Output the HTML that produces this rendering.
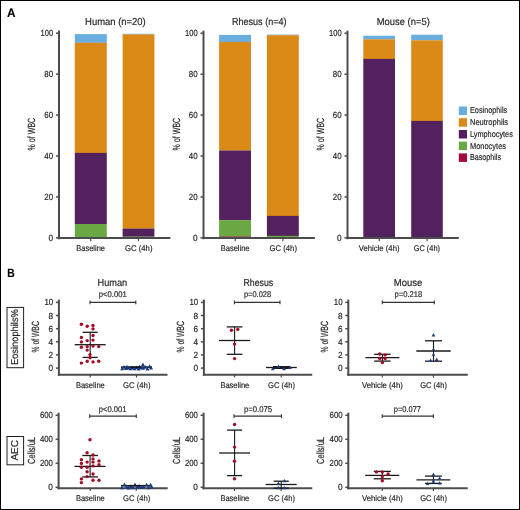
<!DOCTYPE html><html><head><meta charset="utf-8"><style>html,body{margin:0;padding:0;background:#fff;}svg{display:block;}text{text-rendering:geometricPrecision;stroke:#231f20;stroke-width:0.18px;}</style></head><body>
<svg width="520" height="510" viewBox="0 0 520 510" font-family='"Liberation Sans", sans-serif' style="will-change:transform">
<rect x="0" y="0" width="520" height="510" fill="#fff"/>
<rect x="0.5" y="0.5" width="519" height="509" fill="none" stroke="#000" stroke-width="1"/>
<text x="7.00" y="16.60" font-size="12.5" font-weight="bold" fill="#000" textLength="8.50" lengthAdjust="spacingAndGlyphs">A</text>
<text x="7.20" y="277.30" font-size="12.0" font-weight="bold" fill="#000" textLength="7.40" lengthAdjust="spacingAndGlyphs">B</text>
<text x="85.10" y="25.20" font-size="10.2" font-weight="normal" fill="#231f20" textLength="60.60" lengthAdjust="spacingAndGlyphs">Human (n=20)</text>
<text transform="translate(35.20,150.40) rotate(-90)" x="0" y="0" font-size="10.4" fill="#231f20" textLength="32.60" lengthAdjust="spacingAndGlyphs">% of WBC</text>
<rect x="74.80" y="34.10" width="32.00" height="8.80" fill="#6aaee0"/>
<rect x="74.80" y="42.75" width="32.00" height="110.25" fill="#db8a17"/>
<rect x="74.80" y="152.90" width="32.00" height="71.20" fill="#53225e"/>
<rect x="74.80" y="224.00" width="32.00" height="14.00" fill="#6aa843"/>
<rect x="122.60" y="33.80" width="31.80" height="0.80" fill="#6aaee0"/>
<rect x="122.60" y="34.40" width="31.80" height="194.30" fill="#db8a17"/>
<rect x="122.60" y="228.60" width="31.80" height="8.20" fill="#53225e"/>
<rect x="122.60" y="236.60" width="31.80" height="1.40" fill="#6aa843"/>
<line x1="59.00" y1="30.60" x2="59.00" y2="239.20" stroke="#4c4c4c" stroke-width="2.0"/>
<line x1="58.00" y1="238.05" x2="170.40" y2="238.05" stroke="#4c4c4c" stroke-width="2.0"/>
<line x1="56.00" y1="237.85" x2="59.00" y2="237.85" stroke="#4c4c4c" stroke-width="1.5"/>
<text x="48.50" y="240.85" font-size="8.8" font-weight="normal" fill="#231f20" textLength="4.60" lengthAdjust="spacingAndGlyphs">0</text>
<line x1="56.00" y1="196.92" x2="59.00" y2="196.92" stroke="#4c4c4c" stroke-width="1.5"/>
<text x="44.30" y="199.92" font-size="8.8" font-weight="normal" fill="#231f20" textLength="8.80" lengthAdjust="spacingAndGlyphs">20</text>
<line x1="56.00" y1="155.99" x2="59.00" y2="155.99" stroke="#4c4c4c" stroke-width="1.5"/>
<text x="44.30" y="158.99" font-size="8.8" font-weight="normal" fill="#231f20" textLength="8.80" lengthAdjust="spacingAndGlyphs">40</text>
<line x1="56.00" y1="115.06" x2="59.00" y2="115.06" stroke="#4c4c4c" stroke-width="1.5"/>
<text x="44.30" y="118.06" font-size="8.8" font-weight="normal" fill="#231f20" textLength="8.80" lengthAdjust="spacingAndGlyphs">60</text>
<line x1="56.00" y1="74.13" x2="59.00" y2="74.13" stroke="#4c4c4c" stroke-width="1.5"/>
<text x="44.30" y="77.13" font-size="8.8" font-weight="normal" fill="#231f20" textLength="8.80" lengthAdjust="spacingAndGlyphs">80</text>
<line x1="56.00" y1="33.20" x2="59.00" y2="33.20" stroke="#4c4c4c" stroke-width="1.5"/>
<text x="40.50" y="36.20" font-size="8.8" font-weight="normal" fill="#231f20" textLength="12.60" lengthAdjust="spacingAndGlyphs">100</text>
<line x1="90.70" y1="238.25" x2="90.70" y2="241.20" stroke="#4c4c4c" stroke-width="1.2"/>
<text x="76.25" y="250.90" font-size="8.3" font-weight="normal" fill="#231f20" textLength="28.75" lengthAdjust="spacingAndGlyphs">Baseline</text>
<line x1="138.40" y1="238.25" x2="138.40" y2="241.20" stroke="#4c4c4c" stroke-width="1.2"/>
<text x="125.00" y="250.90" font-size="8.3" font-weight="normal" fill="#231f20" textLength="27.50" lengthAdjust="spacingAndGlyphs">GC (4h)</text>
<text x="232.00" y="25.20" font-size="10.2" font-weight="normal" fill="#231f20" textLength="54.50" lengthAdjust="spacingAndGlyphs">Rhesus (n=4)</text>
<text transform="translate(179.70,150.40) rotate(-90)" x="0" y="0" font-size="10.4" fill="#231f20" textLength="32.60" lengthAdjust="spacingAndGlyphs">% of WBC</text>
<rect x="219.10" y="34.90" width="31.90" height="7.10" fill="#6aaee0"/>
<rect x="219.10" y="41.90" width="31.90" height="108.70" fill="#db8a17"/>
<rect x="219.10" y="150.50" width="31.90" height="69.80" fill="#53225e"/>
<rect x="219.10" y="220.20" width="31.90" height="16.50" fill="#6aa843"/>
<rect x="219.10" y="236.50" width="31.90" height="1.50" fill="#a6093d"/>
<rect x="266.90" y="34.60" width="31.90" height="0.80" fill="#6aaee0"/>
<rect x="266.90" y="35.20" width="31.90" height="180.80" fill="#db8a17"/>
<rect x="266.90" y="215.90" width="31.90" height="20.10" fill="#53225e"/>
<rect x="266.90" y="235.80" width="31.90" height="2.20" fill="#6aa843"/>
<line x1="203.50" y1="30.60" x2="203.50" y2="239.20" stroke="#4c4c4c" stroke-width="2.0"/>
<line x1="202.50" y1="238.05" x2="314.90" y2="238.05" stroke="#4c4c4c" stroke-width="2.0"/>
<line x1="200.50" y1="237.85" x2="203.50" y2="237.85" stroke="#4c4c4c" stroke-width="1.5"/>
<text x="193.00" y="240.85" font-size="8.8" font-weight="normal" fill="#231f20" textLength="4.60" lengthAdjust="spacingAndGlyphs">0</text>
<line x1="200.50" y1="196.92" x2="203.50" y2="196.92" stroke="#4c4c4c" stroke-width="1.5"/>
<text x="188.80" y="199.92" font-size="8.8" font-weight="normal" fill="#231f20" textLength="8.80" lengthAdjust="spacingAndGlyphs">20</text>
<line x1="200.50" y1="155.99" x2="203.50" y2="155.99" stroke="#4c4c4c" stroke-width="1.5"/>
<text x="188.80" y="158.99" font-size="8.8" font-weight="normal" fill="#231f20" textLength="8.80" lengthAdjust="spacingAndGlyphs">40</text>
<line x1="200.50" y1="115.06" x2="203.50" y2="115.06" stroke="#4c4c4c" stroke-width="1.5"/>
<text x="188.80" y="118.06" font-size="8.8" font-weight="normal" fill="#231f20" textLength="8.80" lengthAdjust="spacingAndGlyphs">60</text>
<line x1="200.50" y1="74.13" x2="203.50" y2="74.13" stroke="#4c4c4c" stroke-width="1.5"/>
<text x="188.80" y="77.13" font-size="8.8" font-weight="normal" fill="#231f20" textLength="8.80" lengthAdjust="spacingAndGlyphs">80</text>
<line x1="200.50" y1="33.20" x2="203.50" y2="33.20" stroke="#4c4c4c" stroke-width="1.5"/>
<text x="185.00" y="36.20" font-size="8.8" font-weight="normal" fill="#231f20" textLength="12.60" lengthAdjust="spacingAndGlyphs">100</text>
<line x1="235.20" y1="238.25" x2="235.20" y2="241.20" stroke="#4c4c4c" stroke-width="1.2"/>
<text x="220.75" y="250.90" font-size="8.3" font-weight="normal" fill="#231f20" textLength="28.75" lengthAdjust="spacingAndGlyphs">Baseline</text>
<line x1="282.90" y1="238.25" x2="282.90" y2="241.20" stroke="#4c4c4c" stroke-width="1.2"/>
<text x="269.50" y="250.90" font-size="8.3" font-weight="normal" fill="#231f20" textLength="27.50" lengthAdjust="spacingAndGlyphs">GC (4h)</text>
<text x="376.80" y="25.20" font-size="10.2" font-weight="normal" fill="#231f20" textLength="53.00" lengthAdjust="spacingAndGlyphs">Mouse (n=5)</text>
<text transform="translate(323.70,150.40) rotate(-90)" x="0" y="0" font-size="10.4" fill="#231f20" textLength="32.60" lengthAdjust="spacingAndGlyphs">% of WBC</text>
<rect x="363.30" y="35.70" width="31.70" height="3.70" fill="#6aaee0"/>
<rect x="363.30" y="39.30" width="31.70" height="19.70" fill="#db8a17"/>
<rect x="363.30" y="58.90" width="31.70" height="178.50" fill="#53225e"/>
<rect x="363.30" y="237.20" width="31.70" height="0.80" fill="#6aa843"/>
<rect x="411.20" y="34.70" width="31.60" height="5.70" fill="#6aaee0"/>
<rect x="411.20" y="40.30" width="31.60" height="80.70" fill="#db8a17"/>
<rect x="411.20" y="120.90" width="31.60" height="116.50" fill="#53225e"/>
<rect x="411.20" y="237.20" width="31.60" height="0.80" fill="#6aa843"/>
<line x1="347.50" y1="30.60" x2="347.50" y2="239.20" stroke="#4c4c4c" stroke-width="2.0"/>
<line x1="346.50" y1="238.05" x2="458.80" y2="238.05" stroke="#4c4c4c" stroke-width="2.0"/>
<line x1="344.50" y1="237.85" x2="347.50" y2="237.85" stroke="#4c4c4c" stroke-width="1.5"/>
<text x="337.00" y="240.85" font-size="8.8" font-weight="normal" fill="#231f20" textLength="4.60" lengthAdjust="spacingAndGlyphs">0</text>
<line x1="344.50" y1="196.92" x2="347.50" y2="196.92" stroke="#4c4c4c" stroke-width="1.5"/>
<text x="332.80" y="199.92" font-size="8.8" font-weight="normal" fill="#231f20" textLength="8.80" lengthAdjust="spacingAndGlyphs">20</text>
<line x1="344.50" y1="155.99" x2="347.50" y2="155.99" stroke="#4c4c4c" stroke-width="1.5"/>
<text x="332.80" y="158.99" font-size="8.8" font-weight="normal" fill="#231f20" textLength="8.80" lengthAdjust="spacingAndGlyphs">40</text>
<line x1="344.50" y1="115.06" x2="347.50" y2="115.06" stroke="#4c4c4c" stroke-width="1.5"/>
<text x="332.80" y="118.06" font-size="8.8" font-weight="normal" fill="#231f20" textLength="8.80" lengthAdjust="spacingAndGlyphs">60</text>
<line x1="344.50" y1="74.13" x2="347.50" y2="74.13" stroke="#4c4c4c" stroke-width="1.5"/>
<text x="332.80" y="77.13" font-size="8.8" font-weight="normal" fill="#231f20" textLength="8.80" lengthAdjust="spacingAndGlyphs">80</text>
<line x1="344.50" y1="33.20" x2="347.50" y2="33.20" stroke="#4c4c4c" stroke-width="1.5"/>
<text x="329.00" y="36.20" font-size="8.8" font-weight="normal" fill="#231f20" textLength="12.60" lengthAdjust="spacingAndGlyphs">100</text>
<line x1="379.25" y1="238.25" x2="379.25" y2="241.20" stroke="#4c4c4c" stroke-width="1.2"/>
<text x="358.75" y="250.90" font-size="8.3" font-weight="normal" fill="#231f20" textLength="40.75" lengthAdjust="spacingAndGlyphs">Vehicle (4h)</text>
<line x1="427.00" y1="238.25" x2="427.00" y2="241.20" stroke="#4c4c4c" stroke-width="1.2"/>
<text x="413.75" y="250.90" font-size="8.3" font-weight="normal" fill="#231f20" textLength="26.25" lengthAdjust="spacingAndGlyphs">GC (4h)</text>
<rect x="458.80" y="106.50" width="8.20" height="8.50" fill="#6aaee0"/>
<text x="470.00" y="113.40" font-size="8.7" font-weight="normal" fill="#231f20" textLength="37.20" lengthAdjust="spacingAndGlyphs">Eosinophils</text>
<rect x="458.80" y="118.20" width="8.20" height="8.50" fill="#db8a17"/>
<text x="470.00" y="125.10" font-size="8.7" font-weight="normal" fill="#231f20" textLength="38.00" lengthAdjust="spacingAndGlyphs">Neutrophils</text>
<rect x="458.80" y="130.00" width="8.20" height="8.50" fill="#53225e"/>
<text x="470.00" y="136.90" font-size="8.7" font-weight="normal" fill="#231f20" textLength="42.80" lengthAdjust="spacingAndGlyphs">Lymphocytes</text>
<rect x="458.80" y="141.60" width="8.20" height="8.50" fill="#6aa843"/>
<text x="470.00" y="148.50" font-size="8.7" font-weight="normal" fill="#231f20" textLength="36.00" lengthAdjust="spacingAndGlyphs">Monocytes</text>
<rect x="458.80" y="153.40" width="8.20" height="8.50" fill="#a6093d"/>
<text x="470.00" y="160.30" font-size="8.7" font-weight="normal" fill="#231f20" textLength="31.00" lengthAdjust="spacingAndGlyphs">Basophils</text>
<text x="97.50" y="285.60" font-size="10.2" font-weight="normal" fill="#231f20" textLength="29.60" lengthAdjust="spacingAndGlyphs">Human</text>
<text x="243.40" y="285.80" font-size="10.2" font-weight="normal" fill="#231f20" textLength="29.80" lengthAdjust="spacingAndGlyphs">Rhesus</text>
<text x="393.80" y="285.60" font-size="10.2" font-weight="normal" fill="#231f20" textLength="28.50" lengthAdjust="spacingAndGlyphs">Mouse</text>
<rect x="7.0" y="307.4" width="16.6" height="60.3" fill="none" stroke="#231f20" stroke-width="1"/>
<text transform="translate(18.00,365.00) rotate(-90)" x="0" y="0" font-size="10.0" fill="#231f20" textLength="55.80" lengthAdjust="spacingAndGlyphs">Eosinophils%</text>
<rect x="7.0" y="436.5" width="16.6" height="28.3" fill="none" stroke="#231f20" stroke-width="1"/>
<text transform="translate(18.40,460.60) rotate(-90)" x="0" y="0" font-size="10.0" fill="#231f20" textLength="20.60" lengthAdjust="spacingAndGlyphs">AEC</text>
<line x1="58.90" y1="299.60" x2="58.90" y2="375.80" stroke="#4c4c4c" stroke-width="2.0"/>
<line x1="57.90" y1="374.80" x2="167.50" y2="374.80" stroke="#4c4c4c" stroke-width="2.0"/>
<line x1="55.90" y1="302.40" x2="58.90" y2="302.40" stroke="#4c4c4c" stroke-width="1.5"/>
<text x="44.40" y="305.40" font-size="8.8" font-weight="normal" fill="#231f20" textLength="8.80" lengthAdjust="spacingAndGlyphs">10</text>
<line x1="55.90" y1="315.50" x2="58.90" y2="315.50" stroke="#4c4c4c" stroke-width="1.5"/>
<text x="48.60" y="318.50" font-size="8.8" font-weight="normal" fill="#231f20" textLength="4.60" lengthAdjust="spacingAndGlyphs">8</text>
<line x1="55.90" y1="328.70" x2="58.90" y2="328.70" stroke="#4c4c4c" stroke-width="1.5"/>
<text x="48.60" y="331.70" font-size="8.8" font-weight="normal" fill="#231f20" textLength="4.60" lengthAdjust="spacingAndGlyphs">6</text>
<line x1="55.90" y1="341.80" x2="58.90" y2="341.80" stroke="#4c4c4c" stroke-width="1.5"/>
<text x="48.60" y="344.80" font-size="8.8" font-weight="normal" fill="#231f20" textLength="4.60" lengthAdjust="spacingAndGlyphs">4</text>
<line x1="55.90" y1="354.90" x2="58.90" y2="354.90" stroke="#4c4c4c" stroke-width="1.5"/>
<text x="48.60" y="357.90" font-size="8.8" font-weight="normal" fill="#231f20" textLength="4.60" lengthAdjust="spacingAndGlyphs">2</text>
<line x1="55.90" y1="368.10" x2="58.90" y2="368.10" stroke="#4c4c4c" stroke-width="1.5"/>
<text x="48.60" y="371.10" font-size="8.8" font-weight="normal" fill="#231f20" textLength="4.60" lengthAdjust="spacingAndGlyphs">0</text>
<line x1="90.20" y1="374.80" x2="90.20" y2="377.60" stroke="#4c4c4c" stroke-width="1.2"/>
<text x="75.90" y="387.70" font-size="8.3" font-weight="normal" fill="#231f20" textLength="28.90" lengthAdjust="spacingAndGlyphs">Baseline</text>
<line x1="136.50" y1="374.80" x2="136.50" y2="377.60" stroke="#4c4c4c" stroke-width="1.2"/>
<text x="123.00" y="387.70" font-size="8.3" font-weight="normal" fill="#231f20" textLength="27.50" lengthAdjust="spacingAndGlyphs">GC (4h)</text>
<text transform="translate(39.00,352.50) rotate(-90)" x="0" y="0" font-size="10.4" fill="#231f20" textLength="31.30" lengthAdjust="spacingAndGlyphs">% of WBC</text>
<line x1="90.00" y1="302.30" x2="135.80" y2="302.30" stroke="#333" stroke-width="1.2"/>
<line x1="90.00" y1="300.40" x2="90.00" y2="304.20" stroke="#333" stroke-width="1.1"/>
<line x1="135.80" y1="300.40" x2="135.80" y2="304.20" stroke="#333" stroke-width="1.1"/>
<text x="98.80" y="297.20" font-size="8.3" font-weight="normal" fill="#231f20" textLength="27.90" lengthAdjust="spacingAndGlyphs">p&lt;0.001</text>
<line x1="203.90" y1="299.60" x2="203.90" y2="375.80" stroke="#4c4c4c" stroke-width="2.0"/>
<line x1="202.90" y1="374.80" x2="312.25" y2="374.80" stroke="#4c4c4c" stroke-width="2.0"/>
<line x1="200.90" y1="302.40" x2="203.90" y2="302.40" stroke="#4c4c4c" stroke-width="1.5"/>
<text x="189.40" y="305.40" font-size="8.8" font-weight="normal" fill="#231f20" textLength="8.80" lengthAdjust="spacingAndGlyphs">10</text>
<line x1="200.90" y1="315.50" x2="203.90" y2="315.50" stroke="#4c4c4c" stroke-width="1.5"/>
<text x="193.60" y="318.50" font-size="8.8" font-weight="normal" fill="#231f20" textLength="4.60" lengthAdjust="spacingAndGlyphs">8</text>
<line x1="200.90" y1="328.70" x2="203.90" y2="328.70" stroke="#4c4c4c" stroke-width="1.5"/>
<text x="193.60" y="331.70" font-size="8.8" font-weight="normal" fill="#231f20" textLength="4.60" lengthAdjust="spacingAndGlyphs">6</text>
<line x1="200.90" y1="341.80" x2="203.90" y2="341.80" stroke="#4c4c4c" stroke-width="1.5"/>
<text x="193.60" y="344.80" font-size="8.8" font-weight="normal" fill="#231f20" textLength="4.60" lengthAdjust="spacingAndGlyphs">4</text>
<line x1="200.90" y1="354.90" x2="203.90" y2="354.90" stroke="#4c4c4c" stroke-width="1.5"/>
<text x="193.60" y="357.90" font-size="8.8" font-weight="normal" fill="#231f20" textLength="4.60" lengthAdjust="spacingAndGlyphs">2</text>
<line x1="200.90" y1="368.10" x2="203.90" y2="368.10" stroke="#4c4c4c" stroke-width="1.5"/>
<text x="193.60" y="371.10" font-size="8.8" font-weight="normal" fill="#231f20" textLength="4.60" lengthAdjust="spacingAndGlyphs">0</text>
<line x1="234.60" y1="374.80" x2="234.60" y2="377.60" stroke="#4c4c4c" stroke-width="1.2"/>
<text x="220.40" y="387.70" font-size="8.3" font-weight="normal" fill="#231f20" textLength="28.90" lengthAdjust="spacingAndGlyphs">Baseline</text>
<line x1="281.25" y1="374.80" x2="281.25" y2="377.60" stroke="#4c4c4c" stroke-width="1.2"/>
<text x="268.10" y="387.70" font-size="8.3" font-weight="normal" fill="#231f20" textLength="26.90" lengthAdjust="spacingAndGlyphs">GC (4h)</text>
<text transform="translate(184.00,352.50) rotate(-90)" x="0" y="0" font-size="10.4" fill="#231f20" textLength="31.30" lengthAdjust="spacingAndGlyphs">% of WBC</text>
<line x1="234.40" y1="302.30" x2="280.00" y2="302.30" stroke="#333" stroke-width="1.2"/>
<line x1="234.40" y1="300.40" x2="234.40" y2="304.20" stroke="#333" stroke-width="1.1"/>
<line x1="280.00" y1="300.40" x2="280.00" y2="304.20" stroke="#333" stroke-width="1.1"/>
<text x="243.90" y="297.20" font-size="8.3" font-weight="normal" fill="#231f20" textLength="27.30" lengthAdjust="spacingAndGlyphs">p=0.028</text>
<line x1="348.30" y1="299.60" x2="348.30" y2="375.80" stroke="#4c4c4c" stroke-width="2.0"/>
<line x1="347.30" y1="374.80" x2="467.75" y2="374.80" stroke="#4c4c4c" stroke-width="2.0"/>
<line x1="345.30" y1="302.40" x2="348.30" y2="302.40" stroke="#4c4c4c" stroke-width="1.5"/>
<text x="333.80" y="305.40" font-size="8.8" font-weight="normal" fill="#231f20" textLength="8.80" lengthAdjust="spacingAndGlyphs">10</text>
<line x1="345.30" y1="315.50" x2="348.30" y2="315.50" stroke="#4c4c4c" stroke-width="1.5"/>
<text x="338.00" y="318.50" font-size="8.8" font-weight="normal" fill="#231f20" textLength="4.60" lengthAdjust="spacingAndGlyphs">8</text>
<line x1="345.30" y1="328.70" x2="348.30" y2="328.70" stroke="#4c4c4c" stroke-width="1.5"/>
<text x="338.00" y="331.70" font-size="8.8" font-weight="normal" fill="#231f20" textLength="4.60" lengthAdjust="spacingAndGlyphs">6</text>
<line x1="345.30" y1="341.80" x2="348.30" y2="341.80" stroke="#4c4c4c" stroke-width="1.5"/>
<text x="338.00" y="344.80" font-size="8.8" font-weight="normal" fill="#231f20" textLength="4.60" lengthAdjust="spacingAndGlyphs">4</text>
<line x1="345.30" y1="354.90" x2="348.30" y2="354.90" stroke="#4c4c4c" stroke-width="1.5"/>
<text x="338.00" y="357.90" font-size="8.8" font-weight="normal" fill="#231f20" textLength="4.60" lengthAdjust="spacingAndGlyphs">2</text>
<line x1="345.30" y1="368.10" x2="348.30" y2="368.10" stroke="#4c4c4c" stroke-width="1.5"/>
<text x="338.00" y="371.10" font-size="8.8" font-weight="normal" fill="#231f20" textLength="4.60" lengthAdjust="spacingAndGlyphs">0</text>
<line x1="382.40" y1="374.80" x2="382.40" y2="377.60" stroke="#4c4c4c" stroke-width="1.2"/>
<text x="362.00" y="387.70" font-size="8.3" font-weight="normal" fill="#231f20" textLength="40.80" lengthAdjust="spacingAndGlyphs">Vehicle (4h)</text>
<line x1="433.50" y1="374.80" x2="433.50" y2="377.60" stroke="#4c4c4c" stroke-width="1.2"/>
<text x="420.20" y="387.70" font-size="8.3" font-weight="normal" fill="#231f20" textLength="26.70" lengthAdjust="spacingAndGlyphs">GC (4h)</text>
<text transform="translate(328.40,352.50) rotate(-90)" x="0" y="0" font-size="10.4" fill="#231f20" textLength="31.30" lengthAdjust="spacingAndGlyphs">% of WBC</text>
<line x1="382.30" y1="302.30" x2="434.30" y2="302.30" stroke="#333" stroke-width="1.2"/>
<line x1="382.30" y1="300.40" x2="382.30" y2="304.20" stroke="#333" stroke-width="1.1"/>
<line x1="434.30" y1="300.40" x2="434.30" y2="304.20" stroke="#333" stroke-width="1.1"/>
<text x="394.60" y="297.20" font-size="8.3" font-weight="normal" fill="#231f20" textLength="27.70" lengthAdjust="spacingAndGlyphs">p=0.218</text>
<line x1="58.60" y1="412.70" x2="58.60" y2="489.20" stroke="#4c4c4c" stroke-width="2.0"/>
<line x1="57.60" y1="488.20" x2="167.75" y2="488.20" stroke="#4c4c4c" stroke-width="2.0"/>
<line x1="55.60" y1="415.30" x2="58.60" y2="415.30" stroke="#4c4c4c" stroke-width="1.5"/>
<text x="39.90" y="418.30" font-size="8.8" font-weight="normal" fill="#231f20" textLength="13.00" lengthAdjust="spacingAndGlyphs">600</text>
<line x1="55.60" y1="439.30" x2="58.60" y2="439.30" stroke="#4c4c4c" stroke-width="1.5"/>
<text x="39.90" y="442.30" font-size="8.8" font-weight="normal" fill="#231f20" textLength="13.00" lengthAdjust="spacingAndGlyphs">400</text>
<line x1="55.60" y1="463.30" x2="58.60" y2="463.30" stroke="#4c4c4c" stroke-width="1.5"/>
<text x="39.90" y="466.30" font-size="8.8" font-weight="normal" fill="#231f20" textLength="13.00" lengthAdjust="spacingAndGlyphs">200</text>
<line x1="55.60" y1="487.30" x2="58.60" y2="487.30" stroke="#4c4c4c" stroke-width="1.5"/>
<text x="48.30" y="490.30" font-size="8.8" font-weight="normal" fill="#231f20" textLength="4.60" lengthAdjust="spacingAndGlyphs">0</text>
<line x1="90.20" y1="488.20" x2="90.20" y2="491.00" stroke="#4c4c4c" stroke-width="1.2"/>
<text x="75.90" y="501.25" font-size="8.3" font-weight="normal" fill="#231f20" textLength="28.90" lengthAdjust="spacingAndGlyphs">Baseline</text>
<line x1="136.25" y1="488.20" x2="136.25" y2="491.00" stroke="#4c4c4c" stroke-width="1.2"/>
<text x="123.10" y="501.25" font-size="8.3" font-weight="normal" fill="#231f20" textLength="27.15" lengthAdjust="spacingAndGlyphs">GC (4h)</text>
<text transform="translate(35.00,464.00) rotate(-90)" x="0" y="0" font-size="10.4" fill="#231f20" textLength="27.00" lengthAdjust="spacingAndGlyphs">Cells/uL</text>
<line x1="89.70" y1="416.20" x2="136.30" y2="416.20" stroke="#333" stroke-width="1.2"/>
<line x1="89.70" y1="414.30" x2="89.70" y2="418.10" stroke="#333" stroke-width="1.1"/>
<line x1="136.30" y1="414.30" x2="136.30" y2="418.10" stroke="#333" stroke-width="1.1"/>
<text x="98.80" y="411.60" font-size="8.3" font-weight="normal" fill="#231f20" textLength="27.60" lengthAdjust="spacingAndGlyphs">p&lt;0.001</text>
<line x1="203.60" y1="412.70" x2="203.60" y2="489.20" stroke="#4c4c4c" stroke-width="2.0"/>
<line x1="202.60" y1="488.20" x2="312.25" y2="488.20" stroke="#4c4c4c" stroke-width="2.0"/>
<line x1="200.60" y1="415.30" x2="203.60" y2="415.30" stroke="#4c4c4c" stroke-width="1.5"/>
<text x="184.90" y="418.30" font-size="8.8" font-weight="normal" fill="#231f20" textLength="13.00" lengthAdjust="spacingAndGlyphs">600</text>
<line x1="200.60" y1="439.30" x2="203.60" y2="439.30" stroke="#4c4c4c" stroke-width="1.5"/>
<text x="184.90" y="442.30" font-size="8.8" font-weight="normal" fill="#231f20" textLength="13.00" lengthAdjust="spacingAndGlyphs">400</text>
<line x1="200.60" y1="463.30" x2="203.60" y2="463.30" stroke="#4c4c4c" stroke-width="1.5"/>
<text x="184.90" y="466.30" font-size="8.8" font-weight="normal" fill="#231f20" textLength="13.00" lengthAdjust="spacingAndGlyphs">200</text>
<line x1="200.60" y1="487.30" x2="203.60" y2="487.30" stroke="#4c4c4c" stroke-width="1.5"/>
<text x="193.30" y="490.30" font-size="8.8" font-weight="normal" fill="#231f20" textLength="4.60" lengthAdjust="spacingAndGlyphs">0</text>
<line x1="234.50" y1="488.20" x2="234.50" y2="491.00" stroke="#4c4c4c" stroke-width="1.2"/>
<text x="220.40" y="501.25" font-size="8.3" font-weight="normal" fill="#231f20" textLength="28.90" lengthAdjust="spacingAndGlyphs">Baseline</text>
<line x1="281.20" y1="488.20" x2="281.20" y2="491.00" stroke="#4c4c4c" stroke-width="1.2"/>
<text x="268.10" y="501.25" font-size="8.3" font-weight="normal" fill="#231f20" textLength="26.90" lengthAdjust="spacingAndGlyphs">GC (4h)</text>
<text transform="translate(179.60,464.00) rotate(-90)" x="0" y="0" font-size="10.4" fill="#231f20" textLength="27.00" lengthAdjust="spacingAndGlyphs">Cells/uL</text>
<line x1="234.00" y1="416.20" x2="281.50" y2="416.20" stroke="#333" stroke-width="1.2"/>
<line x1="234.00" y1="414.30" x2="234.00" y2="418.10" stroke="#333" stroke-width="1.1"/>
<line x1="281.50" y1="414.30" x2="281.50" y2="418.10" stroke="#333" stroke-width="1.1"/>
<text x="244.00" y="411.60" font-size="8.3" font-weight="normal" fill="#231f20" textLength="28.00" lengthAdjust="spacingAndGlyphs">p=0.075</text>
<line x1="348.30" y1="412.70" x2="348.30" y2="489.20" stroke="#4c4c4c" stroke-width="2.0"/>
<line x1="347.30" y1="488.20" x2="467.75" y2="488.20" stroke="#4c4c4c" stroke-width="2.0"/>
<line x1="345.30" y1="415.30" x2="348.30" y2="415.30" stroke="#4c4c4c" stroke-width="1.5"/>
<text x="329.60" y="418.30" font-size="8.8" font-weight="normal" fill="#231f20" textLength="13.00" lengthAdjust="spacingAndGlyphs">600</text>
<line x1="345.30" y1="439.30" x2="348.30" y2="439.30" stroke="#4c4c4c" stroke-width="1.5"/>
<text x="329.60" y="442.30" font-size="8.8" font-weight="normal" fill="#231f20" textLength="13.00" lengthAdjust="spacingAndGlyphs">400</text>
<line x1="345.30" y1="463.30" x2="348.30" y2="463.30" stroke="#4c4c4c" stroke-width="1.5"/>
<text x="329.60" y="466.30" font-size="8.8" font-weight="normal" fill="#231f20" textLength="13.00" lengthAdjust="spacingAndGlyphs">200</text>
<line x1="345.30" y1="487.30" x2="348.30" y2="487.30" stroke="#4c4c4c" stroke-width="1.5"/>
<text x="338.00" y="490.30" font-size="8.8" font-weight="normal" fill="#231f20" textLength="4.60" lengthAdjust="spacingAndGlyphs">0</text>
<line x1="382.30" y1="488.20" x2="382.30" y2="491.00" stroke="#4c4c4c" stroke-width="1.2"/>
<text x="362.00" y="501.25" font-size="8.3" font-weight="normal" fill="#231f20" textLength="40.80" lengthAdjust="spacingAndGlyphs">Vehicle (4h)</text>
<line x1="433.40" y1="488.20" x2="433.40" y2="491.00" stroke="#4c4c4c" stroke-width="1.2"/>
<text x="420.20" y="501.25" font-size="8.3" font-weight="normal" fill="#231f20" textLength="26.70" lengthAdjust="spacingAndGlyphs">GC (4h)</text>
<text transform="translate(324.20,464.00) rotate(-90)" x="0" y="0" font-size="10.4" fill="#231f20" textLength="27.00" lengthAdjust="spacingAndGlyphs">Cells/uL</text>
<line x1="382.20" y1="416.20" x2="433.40" y2="416.20" stroke="#333" stroke-width="1.2"/>
<line x1="382.20" y1="414.30" x2="382.20" y2="418.10" stroke="#333" stroke-width="1.1"/>
<line x1="433.40" y1="414.30" x2="433.40" y2="418.10" stroke="#333" stroke-width="1.1"/>
<text x="393.80" y="411.60" font-size="8.3" font-weight="normal" fill="#231f20" textLength="27.20" lengthAdjust="spacingAndGlyphs">p=0.077</text>
<line x1="74.70" y1="344.70" x2="105.70" y2="344.70" stroke="#1a1a1a" stroke-width="1.3"/>
<line x1="82.65" y1="332.30" x2="97.75" y2="332.30" stroke="#1a1a1a" stroke-width="1.3"/>
<line x1="82.65" y1="357.40" x2="97.75" y2="357.40" stroke="#1a1a1a" stroke-width="1.3"/>
<line x1="90.20" y1="332.30" x2="90.20" y2="357.40" stroke="#1a1a1a" stroke-width="1.1"/>
<circle cx="81.40" cy="324.30" r="1.7" fill="#a50a25"/>
<circle cx="87.20" cy="326.20" r="1.7" fill="#a50a25"/>
<circle cx="93.00" cy="325.50" r="1.7" fill="#a50a25"/>
<circle cx="93.00" cy="328.90" r="1.7" fill="#a50a25"/>
<circle cx="93.00" cy="335.50" r="1.7" fill="#a50a25"/>
<circle cx="81.40" cy="337.40" r="1.7" fill="#a50a25"/>
<circle cx="87.20" cy="340.60" r="1.7" fill="#a50a25"/>
<circle cx="93.00" cy="340.10" r="1.7" fill="#a50a25"/>
<circle cx="81.40" cy="341.90" r="1.7" fill="#a50a25"/>
<circle cx="81.40" cy="347.30" r="1.7" fill="#a50a25"/>
<circle cx="87.20" cy="346.60" r="1.7" fill="#a50a25"/>
<circle cx="93.00" cy="346.10" r="1.7" fill="#a50a25"/>
<circle cx="98.70" cy="346.60" r="1.7" fill="#a50a25"/>
<circle cx="87.20" cy="350.10" r="1.7" fill="#a50a25"/>
<circle cx="90.00" cy="354.60" r="1.7" fill="#a50a25"/>
<circle cx="90.00" cy="357.80" r="1.7" fill="#a50a25"/>
<circle cx="81.40" cy="363.10" r="1.7" fill="#a50a25"/>
<circle cx="87.20" cy="361.20" r="1.7" fill="#a50a25"/>
<circle cx="93.00" cy="361.90" r="1.7" fill="#a50a25"/>
<circle cx="98.70" cy="361.20" r="1.7" fill="#a50a25"/>
<line x1="121.00" y1="367.10" x2="152.00" y2="367.10" stroke="#111" stroke-width="1.5"/>
<line x1="136.50" y1="366.40" x2="136.50" y2="367.80" stroke="#111" stroke-width="1.1"/>
<path d="M122.20,366.50 L124.20,370.18 L120.20,370.18 Z" fill="#1a3878"/>
<path d="M124.00,365.10 L126.00,368.77 L122.00,368.77 Z" fill="#1a3878"/>
<path d="M126.00,366.30 L128.00,369.97 L124.00,369.97 Z" fill="#1a3878"/>
<path d="M128.20,365.50 L130.19,369.18 L126.20,369.18 Z" fill="#1a3878"/>
<path d="M130.20,366.50 L132.19,370.18 L128.20,370.18 Z" fill="#1a3878"/>
<path d="M132.30,365.70 L134.30,369.38 L130.31,369.38 Z" fill="#1a3878"/>
<path d="M134.40,366.50 L136.40,370.18 L132.41,370.18 Z" fill="#1a3878"/>
<path d="M136.60,365.50 L138.59,369.18 L134.60,369.18 Z" fill="#1a3878"/>
<path d="M138.70,366.70 L140.69,370.38 L136.70,370.38 Z" fill="#1a3878"/>
<path d="M140.60,365.50 L142.59,369.18 L138.60,369.18 Z" fill="#1a3878"/>
<path d="M142.90,362.50 L144.90,366.18 L140.91,366.18 Z" fill="#1a3878"/>
<path d="M143.00,366.10 L145.00,369.77 L141.00,369.77 Z" fill="#1a3878"/>
<path d="M145.30,365.10 L147.30,368.77 L143.31,368.77 Z" fill="#1a3878"/>
<path d="M147.50,366.70 L149.50,370.38 L145.50,370.38 Z" fill="#1a3878"/>
<path d="M149.60,364.30 L151.59,367.97 L147.60,367.97 Z" fill="#1a3878"/>
<path d="M151.00,365.70 L153.00,369.38 L149.00,369.38 Z" fill="#1a3878"/>
<path d="M127.00,364.70 L129.00,368.38 L125.00,368.38 Z" fill="#1a3878"/>
<path d="M139.50,364.70 L141.50,368.38 L137.50,368.38 Z" fill="#1a3878"/>
<line x1="130.00" y1="367.10" x2="141.00" y2="367.10" stroke="#111" stroke-width="1.2"/>
<line x1="219.00" y1="340.50" x2="250.20" y2="340.50" stroke="#1a1a1a" stroke-width="1.3"/>
<line x1="226.75" y1="326.90" x2="242.45" y2="326.90" stroke="#1a1a1a" stroke-width="1.3"/>
<line x1="226.75" y1="354.30" x2="242.45" y2="354.30" stroke="#1a1a1a" stroke-width="1.3"/>
<line x1="234.60" y1="326.90" x2="234.60" y2="354.30" stroke="#1a1a1a" stroke-width="1.1"/>
<circle cx="231.50" cy="330.30" r="1.7" fill="#a50a25"/>
<circle cx="237.80" cy="329.40" r="1.7" fill="#a50a25"/>
<circle cx="234.60" cy="344.10" r="1.7" fill="#a50a25"/>
<circle cx="234.60" cy="358.60" r="1.7" fill="#a50a25"/>
<line x1="265.95" y1="367.50" x2="296.85" y2="367.50" stroke="#1a1a1a" stroke-width="1.3"/>
<line x1="272.90" y1="367.00" x2="289.90" y2="367.00" stroke="#1a1a1a" stroke-width="1.3"/>
<line x1="272.90" y1="368.20" x2="289.90" y2="368.20" stroke="#1a1a1a" stroke-width="1.3"/>
<line x1="281.40" y1="367.00" x2="281.40" y2="368.20" stroke="#1a1a1a" stroke-width="1.1"/>
<rect x="273" y="366" width="17" height="3" fill="#1a1a1a"/>
<path d="M272.75,366.85 L274.56,370.18 L270.94,370.18 Z" fill="#1b3c80"/>
<path d="M278.50,364.60 L280.31,367.93 L276.69,367.93 Z" fill="#1b3c80"/>
<path d="M284.10,366.85 L285.91,370.18 L282.30,370.18 Z" fill="#1b3c80"/>
<path d="M290.00,365.60 L291.81,368.93 L288.19,368.93 Z" fill="#1b3c80"/>
<line x1="365.40" y1="357.60" x2="399.40" y2="357.60" stroke="#1a1a1a" stroke-width="1.3"/>
<line x1="374.20" y1="354.30" x2="390.60" y2="354.30" stroke="#1a1a1a" stroke-width="1.3"/>
<line x1="374.20" y1="361.10" x2="390.60" y2="361.10" stroke="#1a1a1a" stroke-width="1.3"/>
<line x1="382.40" y1="354.30" x2="382.40" y2="361.10" stroke="#1a1a1a" stroke-width="1.1"/>
<circle cx="379.70" cy="354.00" r="1.7" fill="#a50a25"/>
<circle cx="385.10" cy="354.90" r="1.7" fill="#a50a25"/>
<circle cx="379.70" cy="358.50" r="1.7" fill="#a50a25"/>
<circle cx="385.10" cy="358.50" r="1.7" fill="#a50a25"/>
<circle cx="382.40" cy="362.50" r="1.7" fill="#a50a25"/>
<line x1="416.30" y1="351.00" x2="450.70" y2="351.00" stroke="#1a1a1a" stroke-width="1.3"/>
<line x1="425.00" y1="340.80" x2="442.00" y2="340.80" stroke="#1a1a1a" stroke-width="1.3"/>
<line x1="425.00" y1="361.20" x2="442.00" y2="361.20" stroke="#1a1a1a" stroke-width="1.3"/>
<line x1="433.50" y1="340.80" x2="433.50" y2="361.20" stroke="#1a1a1a" stroke-width="1.1"/>
<path d="M433.50,333.10 L435.31,336.43 L431.69,336.43 Z" fill="#1b3c80"/>
<path d="M433.50,347.40 L435.31,350.73 L431.69,350.73 Z" fill="#1b3c80"/>
<path d="M433.50,352.50 L435.31,355.82 L431.69,355.82 Z" fill="#1b3c80"/>
<path d="M430.60,358.60 L432.41,361.93 L428.80,361.93 Z" fill="#1b3c80"/>
<path d="M436.70,357.60 L438.50,360.93 L434.89,360.93 Z" fill="#1b3c80"/>
<line x1="74.55" y1="466.40" x2="105.65" y2="466.40" stroke="#1a1a1a" stroke-width="1.3"/>
<line x1="82.30" y1="455.50" x2="97.90" y2="455.50" stroke="#1a1a1a" stroke-width="1.3"/>
<line x1="82.30" y1="476.90" x2="97.90" y2="476.90" stroke="#1a1a1a" stroke-width="1.3"/>
<line x1="90.10" y1="455.50" x2="90.10" y2="476.90" stroke="#1a1a1a" stroke-width="1.1"/>
<circle cx="90.00" cy="439.70" r="1.7" fill="#a50a25"/>
<circle cx="87.10" cy="452.70" r="1.7" fill="#a50a25"/>
<circle cx="93.00" cy="455.00" r="1.7" fill="#a50a25"/>
<circle cx="93.00" cy="458.90" r="1.7" fill="#a50a25"/>
<circle cx="81.40" cy="459.70" r="1.7" fill="#a50a25"/>
<circle cx="99.00" cy="461.00" r="1.7" fill="#a50a25"/>
<circle cx="87.10" cy="462.10" r="1.7" fill="#a50a25"/>
<circle cx="93.00" cy="462.10" r="1.7" fill="#a50a25"/>
<circle cx="81.40" cy="463.40" r="1.7" fill="#a50a25"/>
<circle cx="99.00" cy="464.80" r="1.7" fill="#a50a25"/>
<circle cx="81.40" cy="467.20" r="1.7" fill="#a50a25"/>
<circle cx="87.10" cy="467.20" r="1.7" fill="#a50a25"/>
<circle cx="93.00" cy="465.90" r="1.7" fill="#a50a25"/>
<circle cx="87.10" cy="471.70" r="1.7" fill="#a50a25"/>
<circle cx="93.00" cy="474.00" r="1.7" fill="#a50a25"/>
<circle cx="87.10" cy="476.60" r="1.7" fill="#a50a25"/>
<circle cx="81.40" cy="478.90" r="1.7" fill="#a50a25"/>
<circle cx="81.40" cy="482.60" r="1.7" fill="#a50a25"/>
<circle cx="93.00" cy="480.20" r="1.7" fill="#a50a25"/>
<circle cx="99.00" cy="480.20" r="1.7" fill="#a50a25"/>
<line x1="121.00" y1="485.70" x2="152.00" y2="485.70" stroke="#111" stroke-width="1.5"/>
<path d="M122.00,485.50 L124.00,489.18 L120.00,489.18 Z" fill="#1a3878"/>
<path d="M124.50,482.50 L126.50,486.18 L122.50,486.18 Z" fill="#1a3878"/>
<path d="M126.60,484.70 L128.59,488.38 L124.60,488.38 Z" fill="#1a3878"/>
<path d="M128.70,485.70 L130.69,489.38 L126.70,489.38 Z" fill="#1a3878"/>
<path d="M130.80,484.30 L132.80,487.97 L128.81,487.97 Z" fill="#1a3878"/>
<path d="M133.00,485.50 L135.00,489.18 L131.00,489.18 Z" fill="#1a3878"/>
<path d="M135.00,482.50 L137.00,486.18 L133.00,486.18 Z" fill="#1a3878"/>
<path d="M137.20,485.10 L139.19,488.77 L135.20,488.77 Z" fill="#1a3878"/>
<path d="M139.30,484.10 L141.30,487.77 L137.31,487.77 Z" fill="#1a3878"/>
<path d="M141.40,485.30 L143.40,488.97 L139.41,488.97 Z" fill="#1a3878"/>
<path d="M143.50,484.50 L145.50,488.18 L141.50,488.18 Z" fill="#1a3878"/>
<path d="M146.50,482.70 L148.50,486.38 L144.50,486.38 Z" fill="#1a3878"/>
<path d="M148.40,485.50 L150.40,489.18 L146.41,489.18 Z" fill="#1a3878"/>
<path d="M150.50,482.70 L152.50,486.38 L148.50,486.38 Z" fill="#1a3878"/>
<path d="M151.60,484.70 L153.59,488.38 L149.60,488.38 Z" fill="#1a3878"/>
<line x1="128.00" y1="485.70" x2="140.00" y2="485.70" stroke="#111" stroke-width="1.2"/>
<line x1="219.15" y1="453.00" x2="250.05" y2="453.00" stroke="#1a1a1a" stroke-width="1.3"/>
<line x1="227.10" y1="430.10" x2="242.10" y2="430.10" stroke="#1a1a1a" stroke-width="1.3"/>
<line x1="227.10" y1="475.60" x2="242.10" y2="475.60" stroke="#1a1a1a" stroke-width="1.3"/>
<line x1="234.60" y1="430.10" x2="234.60" y2="475.60" stroke="#1a1a1a" stroke-width="1.1"/>
<circle cx="234.60" cy="424.50" r="1.7" fill="#a50a25"/>
<circle cx="234.60" cy="447.10" r="1.7" fill="#a50a25"/>
<circle cx="234.50" cy="461.20" r="1.7" fill="#a50a25"/>
<circle cx="234.50" cy="478.80" r="1.7" fill="#a50a25"/>
<line x1="265.70" y1="484.50" x2="296.70" y2="484.50" stroke="#1a1a1a" stroke-width="1.3"/>
<line x1="273.65" y1="481.20" x2="288.75" y2="481.20" stroke="#1a1a1a" stroke-width="1.3"/>
<line x1="273.65" y1="488.20" x2="288.75" y2="488.20" stroke="#1a1a1a" stroke-width="1.3"/>
<line x1="281.20" y1="481.20" x2="281.20" y2="488.20" stroke="#1a1a1a" stroke-width="1.1"/>
<path d="M284.50,478.90 L286.31,482.23 L282.69,482.23 Z" fill="#1b3c80"/>
<path d="M278.40,481.50 L280.20,484.82 L276.59,484.82 Z" fill="#1b3c80"/>
<path d="M278.40,486.00 L280.20,489.32 L276.59,489.32 Z" fill="#1b3c80"/>
<path d="M284.50,486.00 L286.31,489.32 L282.69,489.32 Z" fill="#1b3c80"/>
<line x1="365.20" y1="475.40" x2="399.40" y2="475.40" stroke="#1a1a1a" stroke-width="1.3"/>
<line x1="373.75" y1="471.40" x2="390.85" y2="471.40" stroke="#1a1a1a" stroke-width="1.3"/>
<line x1="373.75" y1="478.80" x2="390.85" y2="478.80" stroke="#1a1a1a" stroke-width="1.3"/>
<line x1="382.30" y1="471.40" x2="382.30" y2="478.80" stroke="#1a1a1a" stroke-width="1.1"/>
<circle cx="376.40" cy="471.90" r="1.7" fill="#a50a25"/>
<circle cx="382.30" cy="471.90" r="1.7" fill="#a50a25"/>
<circle cx="388.10" cy="474.00" r="1.7" fill="#a50a25"/>
<circle cx="382.30" cy="476.40" r="1.7" fill="#a50a25"/>
<circle cx="382.30" cy="480.80" r="1.7" fill="#a50a25"/>
<line x1="416.50" y1="479.90" x2="450.30" y2="479.90" stroke="#1a1a1a" stroke-width="1.3"/>
<line x1="424.95" y1="476.10" x2="441.85" y2="476.10" stroke="#1a1a1a" stroke-width="1.3"/>
<line x1="424.95" y1="483.40" x2="441.85" y2="483.40" stroke="#1a1a1a" stroke-width="1.3"/>
<line x1="433.40" y1="476.10" x2="433.40" y2="483.40" stroke="#1a1a1a" stroke-width="1.1"/>
<path d="M433.40,472.60 L435.20,475.93 L431.59,475.93 Z" fill="#1b3c80"/>
<path d="M439.60,476.50 L441.41,479.82 L437.80,479.82 Z" fill="#1b3c80"/>
<path d="M433.40,479.10 L435.20,482.43 L431.59,482.43 Z" fill="#1b3c80"/>
<path d="M427.70,481.70 L429.50,485.03 L425.89,485.03 Z" fill="#1b3c80"/>
<path d="M439.60,481.30 L441.41,484.62 L437.80,484.62 Z" fill="#1b3c80"/>
</svg></body></html>
